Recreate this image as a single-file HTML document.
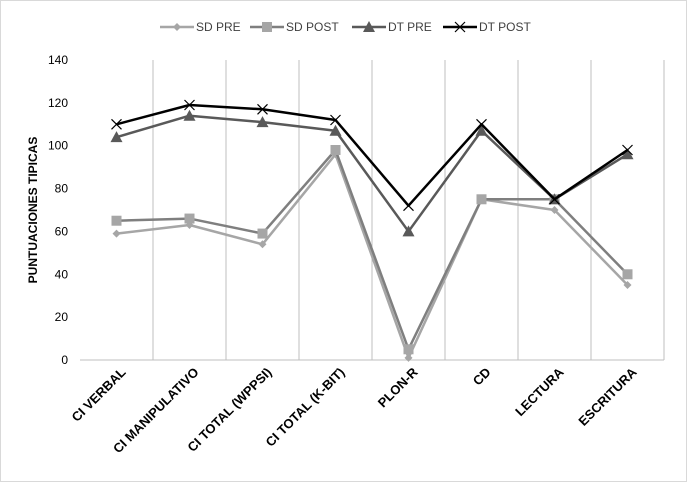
<!DOCTYPE html>
<html><head><meta charset="utf-8"><style>
html,body{margin:0;padding:0;background:#fff;}
svg{display:block;font-family:"Liberation Sans",sans-serif;}
</style></head><body>
<svg id="chart" width="688" height="483">
<rect x="0.5" y="0.5" width="686" height="481" fill="#fff" stroke="#d9d9d9"/>
</svg>
<script>
const categories=["CI VERBAL","CI MANIPULATIVO","CI TOTAL (WPPSI)","CI TOTAL (K-BIT)","PLON-R","CD","LECTURA","ESCRITURA"];
const sdPre=[59,63,54,96,1,75,70,35];
const sdPost=[65,66,59,98,5,75,75,40];
const dtPre=[104,114,111,107,60,107,75,96];
const dtPost=[110,119,117,112,72,110,75,98];
const yTicks=[0,20,40,60,80,100,120,140];
const seriesNames=["SD PRE","SD POST","DT PRE","DT POST"];

const NS="http://www.w3.org/2000/svg";
const svg=document.getElementById('chart');
const L=80,R=664,T=60,B=360,yMax=140;
const bw=(R-L)/categories.length;
const xs=i=>L+bw*(i+0.5);
const ys=v=>B-(v/yMax)*(B-T);
function mk(tag,attrs){const e=document.createElementNS(NS,tag);for(const k in attrs)e.setAttribute(k,attrs[k]);svg.appendChild(e);return e;}

for(let i=1;i<=categories.length;i++){
  const g=mk('line',{x1:L+bw*i,x2:L+bw*i,y1:T,y2:B,stroke:'#bfbfbf','stroke-width':1});
  
  
}
const xa=mk('line',{x1:L,x2:R,y1:B,y2:B,stroke:'#bfbfbf'});


yTicks.forEach(v=>{
  const t=mk('text',{x:L-12,y:ys(v)+4,'text-anchor':'end','font-size':12,fill:'#000'});
  t.textContent=v;
  
  
});
const yt=mk('text',{x:0,y:0,'text-anchor':'middle','font-size':12,'font-weight':'bold',transform:'translate(37,210) rotate(-90)'});
yt.textContent='PUNTUACIONES TIPICAS';


categories.forEach((c,i)=>{
  const t=mk('text',{x:0,y:0,'text-anchor':'end','font-size':13,'font-weight':'bold',transform:`translate(${xs(i)+10},${B+13}) rotate(-45)`});
  t.textContent=c;
  
  
});

function marker(type,x,y,color){
  let e;
  if(type==='diamond')e=mk('polygon',{points:`${x},${y-4} ${x+4},${y} ${x},${y+4} ${x-4},${y}`,fill:color});
  else if(type==='square')e=mk('rect',{x:x-5,y:y-5,width:10,height:10,fill:color});
  else if(type==='triangle')e=mk('polygon',{points:`${x},${y-6} ${x+6},${y+5} ${x-6},${y+5}`,fill:color});
  else e=mk('path',{d:`M${x-5},${y-5}L${x+5},${y+5}M${x-5},${y+5}L${x+5},${y-5}`,stroke:color,'stroke-width':1.2,fill:'none'});
  
  
}
const series=[
  {data:sdPre,line:'#a6a6a6',mk:'diamond',mc:'#a6a6a6'},
  {data:sdPost,line:'#7f7f7f',mk:'square',mc:'#a6a6a6'},
  {data:dtPre,line:'#595959',mk:'triangle',mc:'#595959'},
  {data:dtPost,line:'#000000',mk:'x',mc:'#000'}
];
series.forEach((s,si)=>{
  const p=mk('polyline',{points:s.data.map((v,i)=>xs(i)+','+ys(v)).join(' '),fill:'none',stroke:s.line,'stroke-width':2.5,'stroke-linejoin':'round'});
  
  
  s.data.forEach((v,i)=>marker(s.mk,xs(i),ys(v),s.mc));
});
const legX=[160,250,352,443];
series.forEach((s,si)=>{
  const x=legX[si],y=27;
  const l=mk('line',{x1:x,x2:x+34,y1:y,y2:y,stroke:s.line,'stroke-width':2.5});
  
  
  marker(s.mk,x+17,y,s.mc);
  const t=mk('text',{x:x+36,y:y+4,'font-size':12,fill:'#404040'});
  t.textContent=seriesNames[si];
  
  
});
</script>
</body></html>
